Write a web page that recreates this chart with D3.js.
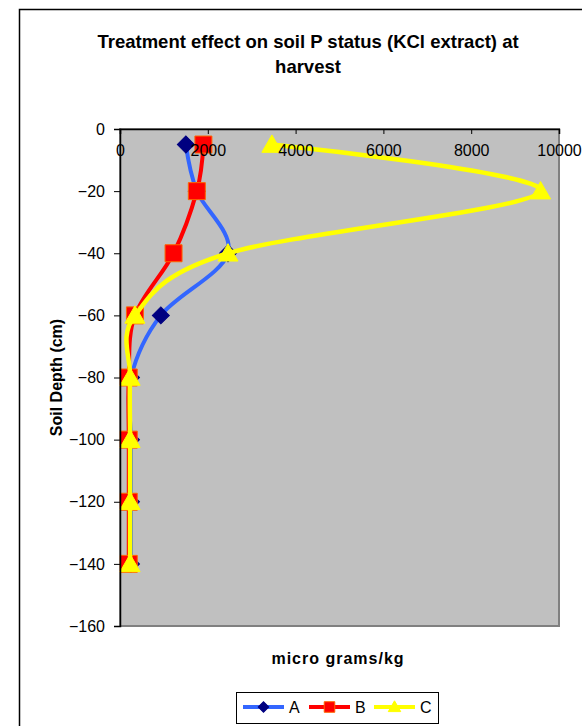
<!DOCTYPE html>
<html>
<head>
<meta charset="utf-8">
<script src="https://cdn.jsdelivr.net/npm/d3@7"></script>
<style>
  body { margin: 0; background: #fff; }
  svg { display: block; font-family: "Liberation Sans", Arial, sans-serif; }
</style>
</head>
<body>
<svg id="chart" width="582" height="726"></svg>
<script>
// depth of each sample (cm)
const depths = [-5, -20, -40, -60, -80, -100, -120, -140];
// micro grams/kg per treatment
const seriesA = [1500, 1750, 2460, 930, 250, 250, 250, 250];
const seriesB = [1900, 1750, 1220, 340, 200, 200, 200, 200];
const seriesC = [3460, 9580, 2460, 340, 230, 230, 230, 230];
const seriesNames = ['A', 'B', 'C'];
const xTicks = [0, 2000, 4000, 6000, 8000, 10000];
const yTicks = [0, -20, -40, -60, -80, -100, -120, -140, -160];

const svg = d3.select('#chart');

// outer chart border (right/bottom run off the picture)
svg.append('rect')
   .attr('x', 19.5).attr('y', 9.5)
   .attr('width', 600).attr('height', 760)
   .attr('fill', 'none').attr('stroke', '#000').attr('stroke-width', 1.5);

const plot = { left: 120, right: 559, top: 129, bottom: 626 };

const xScale = d3.scaleLinear().domain([0, 10000]).range([plot.left, plot.right]);
const yScale = d3.scaleLinear().domain([-160, 0]).range([plot.bottom, plot.top]);

// plot area
svg.append('rect')
   .attr('x', plot.left).attr('y', plot.top)
   .attr('width', plot.right - plot.left).attr('height', plot.bottom - plot.top)
   .attr('fill', '#c0c0c0').attr('stroke', '#808080').attr('stroke-width', 2);

// title
const title = svg.append('text')
   .attr('text-anchor', 'middle')
   .style('font-size', '18.5px').style('font-weight', 'bold');
title.append('tspan').attr('x', 308).attr('y', 48).text('Treatment effect on soil P status (KCl extract) at');
title.append('tspan').attr('x', 308).attr('y', 73).text('harvest');

// axis titles
svg.append('text')
   .attr('x', 338).attr('y', 664)
   .attr('text-anchor', 'middle')
   .style('font-size', '16px').style('font-weight', 'bold')
   .style('letter-spacing', '1px')
   .text('micro grams/kg');

svg.append('text')
   .attr('transform', `translate(62, ${(plot.top + plot.bottom) / 2}) rotate(-90)`)
   .attr('text-anchor', 'middle')
   .style('font-size', '16px').style('font-weight', 'bold')
   .text('Soil Depth (cm)');

const styles = [
  { line: '#3366ff', fill: '#000080', stroke: '#000080', shape: 'diamond' },
  { line: '#ff0000', fill: '#ff0000', stroke: '#ff6600', shape: 'square' },
  { line: '#ffff00', fill: '#ffff00', stroke: '#ffff00', shape: 'triangle' }
];
const allSeries = [seriesA, seriesB, seriesC];

function markerPath(shape, scale) {
  if (shape === 'diamond') return d3.symbol().type(d3.symbolSquare).size(144 * scale * scale)();
  if (shape === 'square') return d3.symbol().type(d3.symbolSquare).size(289 * scale * scale)();
  return d3.symbol().type(d3.symbolTriangle).size(175 * scale * scale)();
}

const line = d3.line()
   .x(d => xScale(d.v))
   .y(d => yScale(d.depth))
   .curve(d3.curveCatmullRom.alpha(0));

allSeries.forEach((vals, i) => {
  const pts = vals.map((v, j) => ({ v: v, depth: depths[j] }));
  const st = styles[i];
  const g = svg.append('g');
  g.append('path')
   .datum(pts)
   .attr('d', line)
   .attr('fill', 'none')
   .attr('stroke', st.line)
   .attr('stroke-width', i === 2 ? 4.5 : 4)
   .attr('stroke-linejoin', 'round');
  g.selectAll('.m')
   .data(pts)
   .enter()
   .append('path')
   .attr('d', markerPath(st.shape, 1))
   .attr('transform', d => `translate(${xScale(d.v)}, ${yScale(d.depth) + (st.shape === 'triangle' ? 2 : 0)})` + (st.shape === 'diamond' ? ' rotate(45)' : ''))
   .attr('fill', st.fill)
   .attr('stroke', st.stroke)
   .attr('stroke-width', 1);
});

// Y axis
const yAxisGroup = svg.append('g')
   .attr('transform', `translate(${plot.left}, 0)`)
   .call(d3.axisLeft(yScale).tickValues(yTicks).tickSize(6).tickPadding(9));
yAxisGroup.select('.domain').attr('stroke', '#000').attr('stroke-width', 1.5);
yAxisGroup.selectAll('text').style('font-size', '16px').style('font-family', '"Liberation Sans", Arial, sans-serif').attr('fill', '#000');

// X axis at depth 0 (top), ticks pointing down; labels drawn over the lines
const xAxisGroup = svg.append('g')
   .attr('transform', `translate(0, ${yScale(0)})`)
   .call(d3.axisBottom(xScale).tickValues(xTicks).tickSize(5).tickPadding(11).tickFormat(d3.format('d')));
xAxisGroup.select('.domain').attr('stroke', '#000').attr('stroke-width', 1.5);
xAxisGroup.selectAll('text').style('font-size', '16px').style('font-family', '"Liberation Sans", Arial, sans-serif').attr('fill', '#000');

// legend
const legend = svg.append('g');
legend.append('rect')
   .attr('x', 236.5).attr('y', 692.5)
   .attr('width', 202).attr('height', 31)
   .attr('fill', '#fff').attr('stroke', '#000').attr('stroke-width', 1);

const legendX = [243, 309, 374];
seriesNames.forEach((name, i) => {
  const st = styles[i];
  const x0 = legendX[i];
  const cy = 707;
  legend.append('line')
     .attr('x1', x0).attr('x2', x0 + 41)
     .attr('y1', cy).attr('y2', cy)
     .attr('stroke', st.line).attr('stroke-width', 4);
  legend.append('path')
     .attr('d', markerPath(st.shape, 0.62))
     .attr('transform', `translate(${x0 + 20.5}, ${cy + (st.shape === 'triangle' ? 1 : 0)})` + (st.shape === 'diamond' ? ' rotate(45)' : ''))
     .attr('fill', st.fill).attr('stroke', st.stroke).attr('stroke-width', 1);
  legend.append('text')
     .attr('x', x0 + 46).attr('y', cy + 6)
     .style('font-size', '16px')
     .text(name);
});
</script>
</body>
</html>
